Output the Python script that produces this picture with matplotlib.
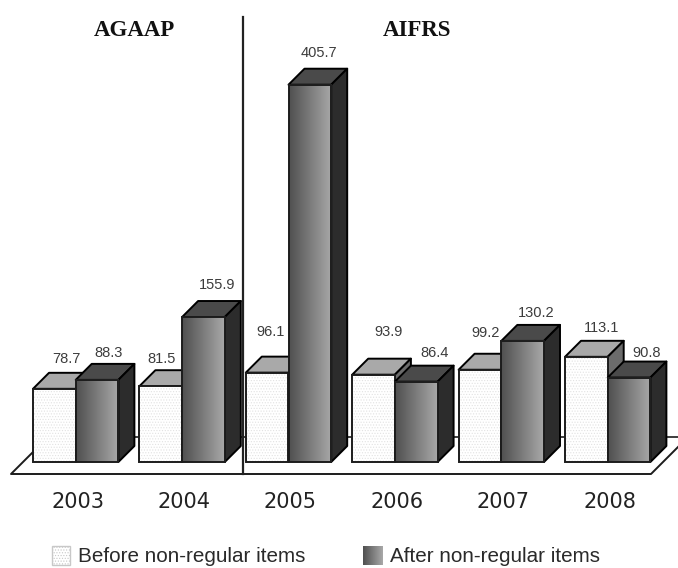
import numpy as np
import matplotlib
matplotlib.use('Agg')
import matplotlib.pyplot as plt
from matplotlib.colors import LinearSegmentedColormap
from matplotlib.patches import Polygon, Rectangle

years = ['2003', '2004', '2005', '2006', '2007', '2008']
before = [78.7, 81.5, 96.1, 93.9, 99.2, 113.1]
after = [88.3, 155.9, 405.7, 86.4, 130.2, 90.8]
before_label_offset = [(12, 30), (1, 27), (3, 41), (15, 43), (6, 37), (15, 29)]
after_label_offset = [(12, 27), (14, 32), (9, 32), (18, 29), (14, 28), (18, 25)]

W, H = 678, 568
PX_X, PX_Y = 106.4, 0.93   # pixels per data unit
X0, Y0 = 33, 462           # pixel position of data origin
BAR = 42.7 / PX_X
DX, DY = 16 / PX_X, 16 / PX_Y
EDGE = '#1c1c1c'
grad = LinearSegmentedColormap.from_list('g', ['#505050', '#a8a8a8'])
ramp = np.linspace(0, 1, 64)[None, :]
plt.rcParams['hatch.linewidth'] = 0.5

fig = plt.figure(figsize=(W / 100, H / 100), dpi=100, facecolor='white')
ax = fig.add_axes([0, 0, 1, 1])
ax.axis('off')

def dx(p): return p / PX_X
def dy(p): return p / PX_Y

# floor
fy0, fy1 = dy(-12), dy(25)
fl, fr = dx(-22), dx(618)
ax.plot([fl + dx(37), dx(W - X0 + 5)], [fy1, fy1], color=EDGE, lw=1.2, zorder=1)
ax.plot([fl + dx(37), fl, fr, fr + dx(37)], [fy1, fy0, fy0, fy1], color=EDGE, lw=1.4, zorder=1)

def box(x, v, top, side, gradient, z):
    ax.add_patch(Polygon([(x, v), (x + DX, v + DY), (x + BAR + DX, v + DY), (x + BAR, v)],
                         fc=top, ec='black', lw=1.4, joinstyle='round', zorder=z))
    ax.add_patch(Polygon([(x + BAR, 0), (x + BAR + DX, DY), (x + BAR + DX, v + DY), (x + BAR, v)],
                         fc=side, ec='black', lw=1.4, joinstyle='round', zorder=z))
    if gradient:
        ax.imshow(ramp, extent=[x, x + BAR, 0, v], cmap=grad, aspect='auto', zorder=z, interpolation='bilinear')
    else:
        ax.add_patch(Rectangle((x, 0), BAR, v, fc='white', ec='#e2e2e2', hatch='......', lw=0, zorder=z))
    ax.add_patch(Rectangle((x, 0), BAR, v, fc='none', ec=EDGE, lw=1.4, zorder=z))

z = 2
for i in range(len(years)):
    box(i, before[i], '#a9a9a9', '#6c6c6c', False, z)
    box(i + BAR, after[i], '#4a4a4a', '#2c2c2c', True, z + 1)
    z += 2
    ax.text(i + BAR + dx(2), dy(-40), years[i], ha='center', va='center',
            fontsize=15, family='DejaVu Sans', color='#222222')
    for xc, v, off in ((i + BAR / 2, before[i], before_label_offset[i]),
                       (i + 1.5 * BAR, after[i], after_label_offset[i])):
        ax.annotate(f'{v:.1f}', (xc, v), xytext=off, textcoords='offset pixels',
                    ha='center', va='center', fontsize=10.5, family='Liberation Sans',
                    color='#3c3c3c', zorder=50)

# divider between accounting standards
ax.plot([dx(243.5 - X0)] * 2, [dy(-12), dy(Y0 - 17)], color='#222222', lw=1.6, zorder=40)
ax.text(dx(134 - X0), dy(Y0 - 30), 'AGAAP', ha='center', va='center', fontsize=16.5,
        family='Liberation Serif', weight='bold', color='#111111')
ax.text(dx(417 - X0), dy(Y0 - 30), 'AIFRS', ha='center', va='center', fontsize=16.5,
        family='Liberation Serif', weight='bold', color='#111111')

# legend
ax.add_patch(Rectangle((dx(52 - X0), dy(Y0 - 565)), dx(18), dy(19), fc='white', ec='#c8c8c8',
                       hatch='......', lw=1, zorder=5))
ax.imshow(ramp, extent=[dx(363 - X0), dx(383 - X0), dy(Y0 - 565), dy(Y0 - 546)], cmap=grad,
          aspect='auto', zorder=5, interpolation='bilinear')
ax.text(dx(78 - X0), dy(Y0 - 556), 'Before non-regular items', ha='left', va='center',
        fontsize=14.9, family='Liberation Sans', color='#2a2a2a')
ax.text(dx(390 - X0), dy(Y0 - 556), 'After non-regular items', ha='left', va='center',
        fontsize=14.9, family='Liberation Sans', color='#2a2a2a')

ax.set_xlim(-X0 / PX_X, (W - X0) / PX_X)
ax.set_ylim(-(H - Y0) / PX_Y, Y0 / PX_Y)
fig.savefig('out.png', dpi=100)
